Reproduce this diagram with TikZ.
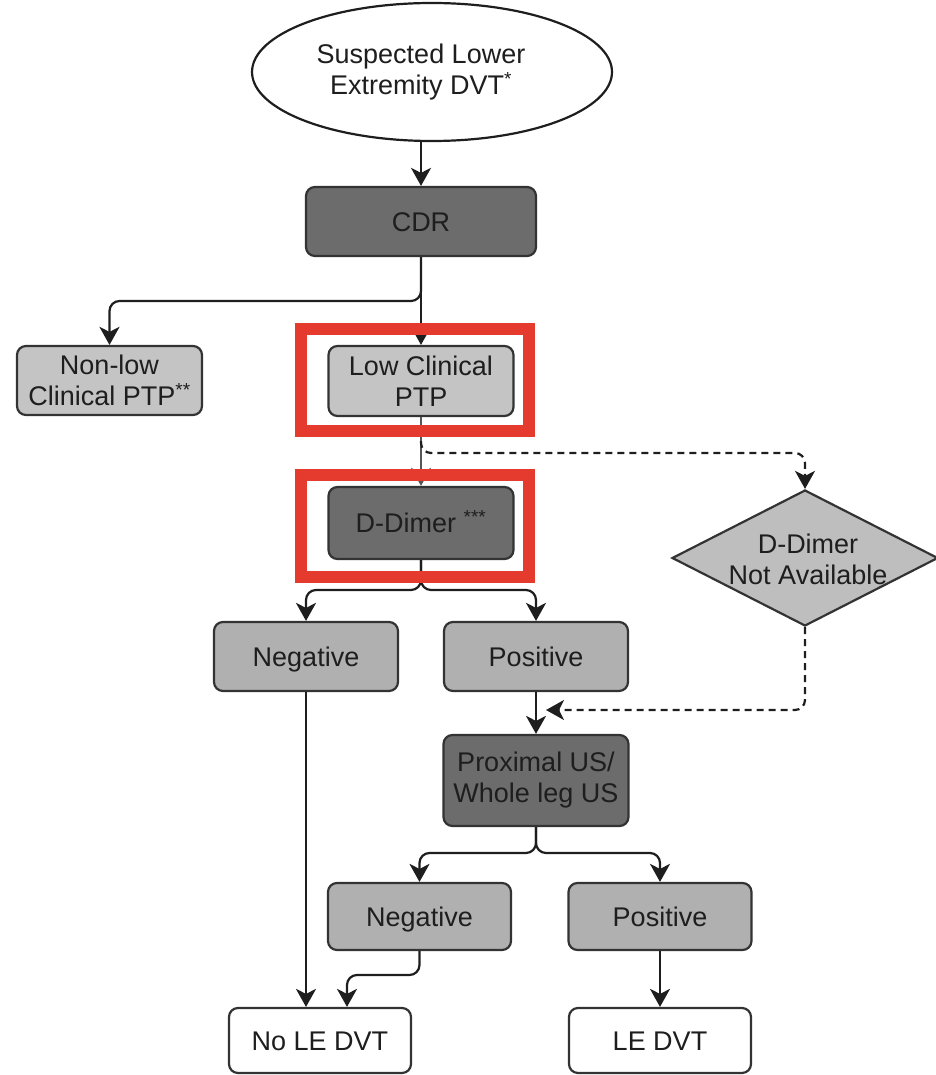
\documentclass[tikz,border=0pt]{standalone}
\usepackage{fontspec}
\setmainfont{Liberation Sans}
\usetikzlibrary{shapes.geometric,arrows.meta}
\definecolor{darkfill}{HTML}{6C6C6C}
\definecolor{lightfill}{HTML}{C4C4C4}
\definecolor{midfill}{HTML}{B0B0B0}
\definecolor{dimfill}{HTML}{BEBEBE}
\definecolor{edge}{HTML}{333333}
\definecolor{ink}{HTML}{1E1E1E}
\definecolor{hilite}{HTML}{E43B2E}
\tikzset{
  box/.style={draw=edge, line width=2.2pt, rounded corners=9pt, align=center,
    inner sep=0pt, text=ink, font=\fontsize{27}{31}\selectfont},
  oneline/.style={text height=19.5pt, text depth=0pt},
  darkbox/.style={box, fill=darkfill},
  lightbox/.style={box, fill=lightfill},
  midbox/.style={box, fill=midfill, oneline},
  whitebox/.style={box, fill=white, oneline},
  arr/.style={draw=ink, line width=2.2pt, -{Stealth[length=18pt 0, width=20pt 0, inset=5pt 0, sharp]}},
  roundturn/.style={rounded corners=10pt},
  dasharr/.style={arr, roundturn, dash pattern=on 7pt off 5pt},
  redframe/.style={draw=hilite, line width=12pt}
}
\begin{document}
\begin{tikzpicture}[x=1pt,y=-1pt]
\useasboundingbox (0,0) rectangle (935,1075);

% nodes
\node[ellipse, draw=ink, line width=2.2pt, fill=white, minimum width=360pt, minimum height=138pt,
  align=center, inner sep=0pt, text=ink, font=\fontsize{27}{31}\selectfont]
  (ell) at (432,72) {Suspected Lower\hspace*{22pt}\\Extremity DVT\textsuperscript{*}\hspace*{22pt}};
\node[darkbox, oneline, minimum width=230pt, minimum height=69pt] (cdr) at (421,221.5) {CDR};
\node[lightbox, minimum width=185pt, minimum height=69pt] (nonlow) at (109.5,380.5) {Non-low\\Clinical PTP\textsuperscript{**}};
\node[lightbox, minimum width=185pt, minimum height=70pt] (low) at (421,381) {Low Clinical\\PTP};
\node[darkbox, oneline, minimum width=185pt, minimum height=72pt] (dd) at (421,523) {D-Dimer \textsuperscript{***}};
\node[diamond, draw=edge, line width=2.2pt, fill=dimfill, minimum width=266pt, minimum height=136pt, inner sep=0pt] (dna) at (805,558) {};
\node[align=center, inner sep=0pt, text=ink, font=\fontsize{27}{31}\selectfont] (dnatext) at (808,559) {D-Dimer\\Not Available};
\node[midbox, minimum width=184pt, minimum height=69pt] (neg1) at (306,656.5) {Negative};
\node[midbox, minimum width=184pt, minimum height=69pt] (pos1) at (536,656.5) {Positive};
\node[darkbox, minimum width=185pt, minimum height=91pt] (prox) at (536,780.5) {Proximal US/\\Whole leg US};
\node[midbox, minimum width=183pt, minimum height=67pt] (neg2) at (419.5,916.5) {Negative};
\node[midbox, minimum width=183pt, minimum height=67pt] (pos2) at (660,916.5) {Positive};
\node[whitebox, minimum width=182pt, minimum height=65pt] (nole) at (320,1040.5) {No LE DVT};
\node[whitebox, minimum width=182pt, minimum height=65pt] (le) at (660,1040.5) {LE DVT};

% branch coordinates
\coordinate (br1) at (421,301);
\coordinate (br2) at (421,590);
\coordinate (br3) at (536,853);
\coordinate (br4) at (419.5,975);
\coordinate (dstart) at (421,441);
\coordinate (dcorner) at (805,453);
\coordinate (dend) at (546,710);

% connectors
\draw[arr] (cdr.north |- ell.south) -- (cdr.north);
\draw[arr] (cdr.south) -- (low.north);
\draw[arr, roundturn] (cdr.south) -- (br1) -| (nonlow.north);
\draw[arr, draw=ink!75] (low.south) -- (dd.north);
\draw[dasharr] (dstart) |- (dcorner) -- (dna.north);
\draw[dasharr] (dna.south) |- (dend);
\draw[arr, roundturn] (dd.south) -- (br2) -| (neg1.north);
\draw[arr, roundturn] (dd.south) -- (br2) -| (pos1.north);
\draw[arr] (neg1.south) -- (neg1.south |- nole.north);
\draw[arr] (pos1.south) -- (prox.north);
\draw[arr, roundturn] (prox.south) -- (br3) -| (neg2.north);
\draw[arr, roundturn] (prox.south) -- (br3) -| (pos2.north);
\draw[arr, roundturn] (neg2.south) -- (br4) -| ([xshift=27pt]nole.north);
\draw[arr] (pos2.south) -- (le.north);

% highlight frames
\draw[redframe] (301,329) rectangle (529,431);
\draw[redframe] (301,475) rectangle (529,577);
\end{tikzpicture}
\end{document}
